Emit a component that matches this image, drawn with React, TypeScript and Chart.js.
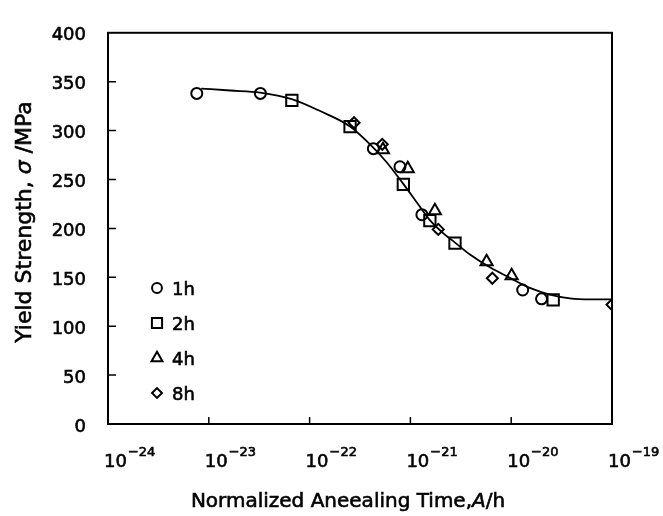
import React, { useEffect, useRef } from 'react';
import { Chart, registerables } from 'chart.js';
import { drawPoint } from 'chart.js/helpers';

Chart.register(...registerables);

// ---- data ----
const seriesLabels = ['1h', '2h', '4h', '8h'];

const time1h = [7.6e-24, 3.25e-23, 4.29e-22, 7.88e-22, 1.3e-21, 1.3e-20, 2.0e-20];
const sigma1h = [338, 338, 281.5, 263, 214, 137, 128];

const time2h = [6.67e-23, 2.52e-22, 8.51e-22, 1.56e-21, 2.77e-21, 2.61e-20];
const sigma2h = [331, 304, 245, 208, 185, 127];

const time4h = [5.34e-22, 9.42e-22, 1.75e-21, 5.7e-21, 1.01e-20];
const sigma4h = [280.5, 261, 218, 166, 151.5];

const time8h = [2.76e-22, 5.26e-22, 1.89e-21, 6.5e-21, 1e-19];
const sigma8h = [308, 286, 199, 149, 122];

const curveTime = [
  8.41e-24, 1.63e-23, 3.23e-23, 6.66e-23, 1.27e-22, 2.52e-22, 3.98e-22, 5.73e-22,
  8.5e-22, 1.16e-21, 1.56e-21, 2.06e-21, 2.77e-21, 3.9e-21, 6.15e-21, 9.71e-21,
  1.53e-20, 2.42e-20, 3.82e-20, 6.03e-20, 1e-19,
];
const curveSigma = [
  343, 341, 338.9, 332.2, 320, 304.2, 285.9, 268.4, 245.5, 226.5, 208.4, 196.2,
  185.5, 173.3, 160.2, 149.4, 139.2, 132.4, 128.5, 127.5, 127.5,
];

const xTickExponents = [-24, -23, -22, -21, -20, -19];
const yTickValues = [0, 50, 100, 150, 200, 250, 300, 350, 400];

const yTitleParts: [string, boolean][] = [['Yield Strength, ', false], ['σ', true], [' /MPa', false]];
const xTitleParts: [string, boolean][] = [['Normalized Aneealing Time,', false], ['A', true], ['/h', false]];

// ---- styles ----
const FONT = '"DejaVu Sans", sans-serif';
const TEXT_STROKE = 0.6;
const pointStyles = ['circle', 'rect', 'triangle', 'rectRot'];
const pointRadii = [5.5, 8, 7, 5.5];

const toXY = (xs: number[], ys: number[]) => xs.map((x, i) => ({ x, y: ys[i] }));

function boldText(ctx: CanvasRenderingContext2D, t: string, x: number, y: number) {
  ctx.fillText(t, x, y);
  ctx.lineWidth = TEXT_STROKE;
  ctx.strokeText(t, x, y);
}

function drawParts(ctx: CanvasRenderingContext2D, parts: [string, boolean][], size: number, cx: number, baseY: number) {
  let total = 0;
  const widths = parts.map(([t, it]) => {
    ctx.font = `${it ? 'italic ' : ''}${size}px ${FONT}`;
    const w = ctx.measureText(t).width;
    total += w;
    return w;
  });
  let x = cx - total / 2;
  parts.forEach(([t, it], i) => {
    ctx.font = `${it ? 'italic ' : ''}${size}px ${FONT}`;
    boldText(ctx, t, x, baseY);
    x += widths[i];
  });
}

const decorPlugin = {
  id: 'decor',
  afterDraw(chart: any) {
    const { ctx, chartArea: a, scales } = chart;
    const xs = scales.x;
    const ys = scales.y;
    ctx.save();
    ctx.strokeStyle = '#000';
    ctx.fillStyle = '#000';

    // frame
    ctx.lineWidth = 2;
    ctx.strokeRect(a.left, a.top, a.right - a.left, a.bottom - a.top);

    // inward tick marks
    ctx.lineWidth = 1.5;
    ctx.beginPath();
    xs.ticks.forEach((t: any) => {
      const px = xs.getPixelForValue(t.value);
      if (px <= a.left + 1 || px >= a.right - 1) return;
      ctx.moveTo(px, a.bottom);
      ctx.lineTo(px, a.bottom - 7);
    });
    ys.ticks.forEach((t: any) => {
      const py = ys.getPixelForValue(t.value);
      if (py <= a.top + 1 || py >= a.bottom - 1) return;
      ctx.moveTo(a.left, py);
      ctx.lineTo(a.left + 8, py);
    });
    ctx.stroke();

    // x tick labels 10^n
    ctx.textAlign = 'left';
    ctx.textBaseline = 'alphabetic';
    xs.ticks.forEach((t: any) => {
      const px = xs.getPixelForValue(t.value);
      const e = Math.round(Math.log10(t.value));
      const x0 = px - 4;
      ctx.font = `18px ${FONT}`;
      boldText(ctx, '10', x0, a.bottom + 43);
      const w = ctx.measureText('10').width;
      ctx.font = `13px ${FONT}`;
      boldText(ctx, (e < 0 ? '−' : '') + Math.abs(e), x0 + w + 1, a.bottom + 32);
    });

    // x title
    drawParts(ctx, xTitleParts, 20, 348, 507);

    // y title (rotated)
    ctx.save();
    ctx.translate(31, 222);
    ctx.rotate(-Math.PI / 2);
    drawParts(ctx, yTitleParts, 22, 0, 0);
    ctx.restore();

    // legend inside plot
    const sets = chart.data.datasets.filter((d: any) => d.inLegend);
    sets.forEach((d: any, i: number) => {
      const y = 288 + 35 * i;
      ctx.lineWidth = 2;
      ctx.strokeStyle = '#000';
      ctx.fillStyle = 'rgba(0,0,0,0)';
      drawPoint(ctx, { pointStyle: d.pointStyle, radius: d.pointRadius * 0.9, rotation: 0, borderWidth: 2 } as any, 157, y);
      ctx.fillStyle = '#000';
      ctx.font = `18px ${FONT}`;
      ctx.textAlign = 'left';
      ctx.textBaseline = 'alphabetic';
      boldText(ctx, d.label, 172, y + 6.5);
    });
    ctx.restore();
  },
};

export default function App() {
  const ref = useRef<HTMLCanvasElement | null>(null);

  useEffect(() => {
    if (!ref.current) return;
    const seriesX = [time1h, time2h, time4h, time8h];
    const seriesY = [sigma1h, sigma2h, sigma4h, sigma8h];

    const scatterSets = seriesLabels.map((label, i) => ({
      type: 'scatter' as const,
      label,
      inLegend: true,
      data: toXY(seriesX[i], seriesY[i]),
      pointStyle: pointStyles[i],
      pointRadius: pointRadii[i],
      pointBorderWidth: 2,
      pointBorderColor: '#000',
      pointBackgroundColor: 'rgba(0,0,0,0)',
      showLine: false,
    }));

    const chart = new Chart(ref.current, {
      type: 'scatter',
      data: {
        datasets: [
          {
            type: 'line',
            label: 'fit',
            data: toXY(curveTime, curveSigma),
            borderColor: '#000',
            borderWidth: 1.8,
            pointRadius: 0,
            fill: false,
            tension: 0.4,
            cubicInterpolationMode: 'monotone',
          } as any,
          ...(scatterSets as any[]),
        ],
      },
      plugins: [decorPlugin],
      options: {
        responsive: false,
        animation: false,
        devicePixelRatio: 1,
        events: [],
        layout: { padding: { top: 14, right: 51, left: 0, bottom: 0 } },
        plugins: { legend: { display: false }, tooltip: { enabled: false } },
        scales: {
          x: {
            type: 'logarithmic',
            position: 'bottom',
            min: 1e-24,
            max: 1e-19,
            grid: { display: false, drawTicks: false },
            border: { display: false },
            ticks: { display: false },
            afterBuildTicks: (s: any) => {
              s.ticks = xTickExponents.map((e) => ({ value: Math.pow(10, e) }));
            },
            afterFit: (s: any) => {
              s.height = 92;
            },
          },
          y: {
            type: 'linear',
            position: 'left',
            min: 0,
            max: 400,
            grid: { display: false, drawTicks: false },
            border: { display: false },
            ticks: {
              color: '#000',
              font: { family: FONT, size: 18 },
              padding: 22,
              labelOffset: 3,
              textStrokeColor: '#000',
              textStrokeWidth: TEXT_STROKE,
            },
            afterBuildTicks: (s: any) => {
              s.ticks = yTickValues.map((v) => ({ value: v }));
            },
            afterFit: (s: any) => {
              s.width = 108;
            },
          },
        },
      } as any,
    });
    return () => chart.destroy();
  }, []);

  return (
    <canvas
      ref={ref}
      width={663}
      height={516}
      style={{ position: 'fixed', left: 0, top: 0, background: '#fff' }}
    />
  );
}
